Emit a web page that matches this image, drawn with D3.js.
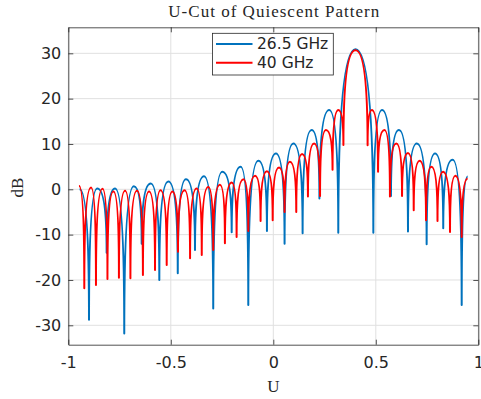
<!DOCTYPE html>
<html>
<head>
<meta charset="utf-8">
<script src="https://cdn.jsdelivr.net/npm/d3@7"></script>
<style>
  body { margin: 0; background: #fff; }
  .axis path { stroke: #262626; stroke-width: 0.8; }
  .axis line { stroke: #262626; stroke-width: 0.8; }
  .axis text { font-family: "DejaVu Sans", sans-serif; font-size: 16px; fill: #262626; }
  .grid line { stroke: #e0e0e0; stroke-width: 1; }
</style>
</head>
<body>
<div id="chart"></div>
<script>
const uTicks = [-1, -0.5, 0, 0.5, 1];
const dbTicks = [-30, -20, -10, 0, 10, 20, 30];
const seriesNames = ['26.5 GHz', '40 GHz'];
const seriesColors = ['#0072bd', '#ff0000'];

// 26.5 GHz: lobe peaks and nulls
const u265 = [-0.945, -0.899, -0.859, -0.813, -0.772, -0.727, -0.680, -0.642, -0.598, -0.556,
  -0.512, -0.466, -0.426, -0.382, -0.338, -0.293, -0.249, -0.203, -0.159, -0.122,
  -0.073, -0.031, 0.013, 0.055, 0.098, 0.143, 0.187, 0.225, 0.273, 0.317,
  0.401, 0.488, 0.530, 0.574, 0.613, 0.657, 0.700, 0.748, 0.789, 0.829,
  0.875, 0.919, 0.948];
const db265 = [0.0, -28.8, 0.2, -14, 0.2, -31.8, 0.7, -12, 1.3, -20,
  1.7, -18.5, 2.2, -13.4, 2.9, -26.3, 3.9, -9.5, 5.0, -25.5,
  6.3, -9.2, 7.9, -12, 10.1, -9.7, 13.1, -2.0, 17.5, -9.6,
  30.9, -9.6, 17.5, -1.5, 13.1, -9.3, 10.1, -12.1, 7.9, -8.6,
  6.5, -25.5, 2.8];

// 40 GHz
const u40 = [-0.948, -0.922, -0.889, -0.865, -0.833, -0.809, -0.780, -0.753, -0.723, -0.697,
  -0.665, -0.636, -0.606, -0.577, -0.550, -0.520, -0.492, -0.465, -0.433, -0.406,
  -0.374, -0.349, -0.317, -0.293, -0.260, -0.236, -0.203, -0.179, -0.146, -0.122,
  -0.089, -0.062, -0.031, -0.003, 0.028, 0.055, 0.081, 0.112, 0.140, 0.169,
  0.199, 0.228, 0.257, 0.289, 0.317, 0.342, 0.401, 0.460, 0.481, 0.511,
  0.542, 0.569, 0.600, 0.628, 0.657, 0.685, 0.714, 0.745, 0.771, 0.801,
  0.828, 0.862, 0.888, 0.919, 0.948];
const db40 = [0.8, -21.8, 0.4, -21.1, 0.1, -19.8, -0.5, -19.5, -0.3, -19.6,
  -0.3, -18.9, -0.5, -17.8, -0.2, -16.7, -0.5, -13.8, -0.2, -15.2,
  0.2, -14.5, 0.5, -13.4, 1.0, -11.9, 1.5, -10.5, 2.2, -9.2,
  3.0, -7.0, 4.0, -6.8, 4.8, -5.0, 6.1, -5.0, 7.8, -1.6,
  10.1, -1.5, 13.1, 4.3, 17.5, 9.8, 30.7, 9.7, 17.5, 3.9,
  13.1, -1.6, 10.1, -1.5, 8.0, -4.6, 6.3, -6.8, 5.0, -7.0,
  3.9, -9.4, 3.0, -10.5, 2.4];

const width = 481, height = 399;
const margin = {top: 27.3, right: 2.7, bottom: 54.3, left: 68.3};

const x = d3.scaleLinear().domain([-1, 1]).range([margin.left, width - margin.right]);
const y = d3.scaleLinear().domain([-34.28, 35.74]).range([height - margin.bottom, margin.top]);

const svg = d3.select('#chart').append('svg')
    .attr('width', width)
    .attr('height', height);

// grid
const grid = svg.append('g').attr('class', 'grid');
grid.selectAll('.gx').data(uTicks).enter().append('line')
    .attr('x1', d => x(d)).attr('x2', d => x(d))
    .attr('y1', y.range()[0]).attr('y2', y.range()[1]);
grid.selectAll('.gy').data(dbTicks).enter().append('line')
    .attr('x1', x.range()[0]).attr('x2', x.range()[1])
    .attr('y1', d => y(d)).attr('y2', d => y(d));

// lobes: arc up to each peak, sharp spike at each null
function lobePath(us, dbs) {
    const p = d3.path();
    us.forEach((u, i) => {
        const X = x(u), Y = y(dbs[i]);
        if (i === 0) { p.moveTo(X, Y); return; }
        const pX = x(us[i - 1]), pY = y(dbs[i - 1]);
        if (dbs[i] > dbs[i - 1]) p.quadraticCurveTo(pX, Y, X, Y);
        else p.quadraticCurveTo(X, pY, X, Y);
    });
    return p.toString();
}

const series = [[u265, db265], [u40, db40]];
svg.append('g').selectAll('path').data(series).enter().append('path')
    .attr('fill', 'none')
    .attr('stroke', (d, i) => seriesColors[i])
    .attr('stroke-width', 2)
    .attr('stroke-linejoin', 'round')
    .attr('d', d => lobePath(d[0], d[1]));

const fmt = d => String(d);
svg.append('g').attr('class', 'axis')
    .attr('transform', `translate(0,${y.range()[0]})`)
    .call(d3.axisBottom(x).tickValues(uTicks).tickFormat(fmt).tickSizeInner(-5).tickSizeOuter(0).tickPadding(12));
svg.append('g').attr('class', 'axis')
    .attr('transform', `translate(0,${y.range()[1]})`)
    .call(d3.axisTop(x).tickValues(uTicks).tickFormat('').tickSizeInner(-5).tickSizeOuter(0));
svg.append('g').attr('class', 'axis')
    .attr('transform', `translate(${x.range()[0]},0)`)
    .call(d3.axisLeft(y).tickValues(dbTicks).tickFormat(fmt).tickSizeInner(-5).tickSizeOuter(0).tickPadding(7));
svg.append('g').attr('class', 'axis')
    .attr('transform', `translate(${x.range()[1]},0)`)
    .call(d3.axisRight(y).tickValues(dbTicks).tickFormat('').tickSizeInner(-5).tickSizeOuter(0));

// title and labels
svg.append('text')
    .attr('x', 273.8).attr('y', 17.2)
    .attr('text-anchor', 'middle')
    .attr('textLength', 211).attr('lengthAdjust', 'spacing')
    .style('font-family', '"Liberation Serif", serif').style('font-size', '17px').style('fill', '#262626')
    .text('U-Cut of Quiescent Pattern');
svg.append('text')
    .attr('x', x(0)).attr('y', 391.5)
    .attr('text-anchor', 'middle')
    .style('font-family', '"Liberation Serif", serif').style('font-size', '17px').style('fill', '#262626')
    .text('U');
svg.append('text')
    .attr('transform', `translate(23,187.5) rotate(-90)`)
    .attr('text-anchor', 'middle')
    .style('font-family', '"Liberation Serif", serif').style('font-size', '17px').style('fill', '#262626')
    .text('dB');

// legend
const legend = svg.append('g').attr('transform', 'translate(212.5,33.3)');
legend.append('rect')
    .attr('width', 120.8).attr('height', 41.7)
    .attr('fill', '#fff').attr('stroke', '#262626').attr('stroke-width', 0.8);
seriesNames.forEach((name, i) => {
    const ly = 10.7 + i * 18.7;
    legend.append('line')
        .attr('x1', 3.5).attr('x2', 40).attr('y1', ly).attr('y2', ly)
        .attr('stroke', seriesColors[i]).attr('stroke-width', 2);
    legend.append('text')
        .attr('x', 44.5).attr('y', ly).attr('dy', '0.35em')
        .style('font-family', '"DejaVu Sans", sans-serif').style('font-size', '15.5px').style('fill', '#262626')
        .text(name);
});
</script>
</body>
</html>
